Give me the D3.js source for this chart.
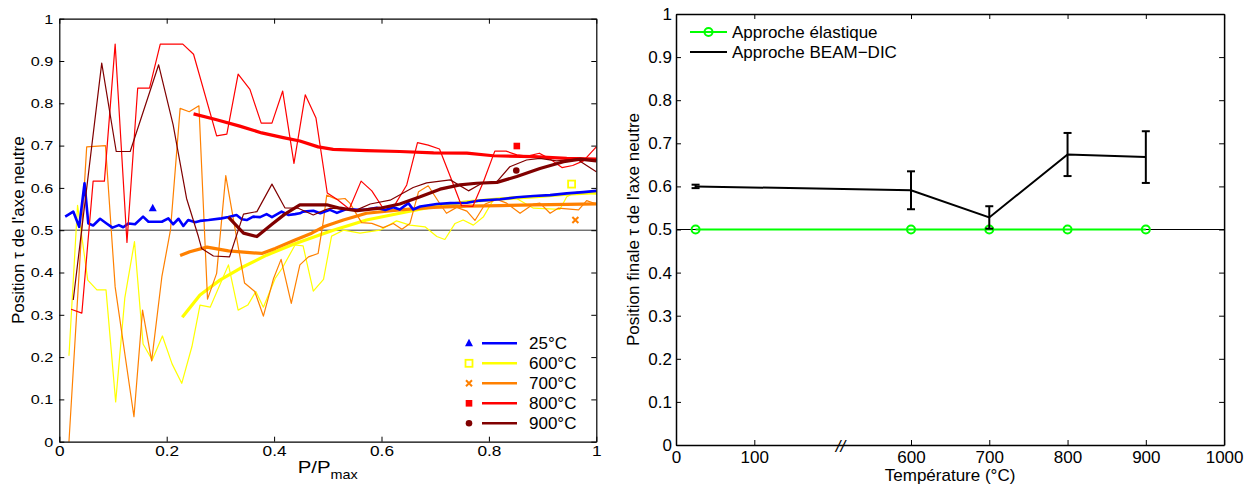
<!DOCTYPE html>
<html><head><meta charset="utf-8">
<script src="https://cdn.jsdelivr.net/npm/d3@7"></script>
<style>
body{margin:0;background:#fff}
svg{display:block}
text{font-family:"Liberation Sans",Arial,sans-serif;fill:#000}
</style>
</head><body><svg id="c" width="1251" height="486"></svg>
<script>
// ---------- LEFT PANEL DATA ([P/Pmax, tau]) ----------
const raw25 = [[0.011,0.532],[0.026,0.544],[0.037,0.508],[0.047,0.611],[0.054,0.516],[0.063,0.511],[0.076,0.527],[0.088,0.516],[0.099,0.506],[0.111,0.512],[0.119,0.507],[0.129,0.516],[0.141,0.514],[0.156,0.532],[0.166,0.520],[0.191,0.520],[0.203,0.528],[0.212,0.514],[0.222,0.527],[0.231,0.510],[0.240,0.524],[0.253,0.519],[0.262,0.522],[0.278,0.524],[0.302,0.528],[0.315,0.531],[0.330,0.536],[0.340,0.526],[0.349,0.524],[0.361,0.532],[0.374,0.531],[0.386,0.538],[0.396,0.531],[0.414,0.544],[0.427,0.536],[0.439,0.538],[0.448,0.540],[0.454,0.544],[0.473,0.546],[0.486,0.540],[0.504,0.548],[0.517,0.541],[0.535,0.550],[0.557,0.548],[0.572,0.549],[0.591,0.553],[0.607,0.548],[0.622,0.554],[0.634,0.549],[0.650,0.564],[0.659,0.549],[0.672,0.556],[0.703,0.562],[0.728,0.564],[0.759,0.565],[0.783,0.570],[0.821,0.573],[0.852,0.578],[0.883,0.581],[0.914,0.583],[0.945,0.587],[0.976,0.590],[1.0,0.593]];

const raw600 = [[0.018,0.203],[0.034,0.559],[0.053,0.382],[0.070,0.359],[0.087,0.359],[0.105,0.094],[0.122,0.340],[0.140,0.473],[0.156,0.231],[0.173,0.193],[0.192,0.250],[0.210,0.184],[0.228,0.138],[0.247,0.225],[0.262,0.323],[0.281,0.318],[0.315,0.418],[0.333,0.311],[0.351,0.323],[0.366,0.355],[0.380,0.318],[0.402,0.386],[0.415,0.410],[0.439,0.465],[0.454,0.463],[0.473,0.356],[0.492,0.384],[0.507,0.486],[0.529,0.500],[0.560,0.493],[0.597,0.500],[0.628,0.522],[0.653,0.512],[0.681,0.508],[0.703,0.485],[0.718,0.478],[0.737,0.516],[0.752,0.524],[0.771,0.512],[0.790,0.532],[0.808,0.571],[0.846,0.579],[0.883,0.552],[0.932,0.549],[0.945,0.579],[0.964,0.591],[1.0,0.585]];
const fit600 = [[0.229,0.294],[0.262,0.347],[0.299,0.382],[0.337,0.410],[0.386,0.441],[0.436,0.467],[0.486,0.489],[0.510,0.500],[0.572,0.524],[0.634,0.540],[0.697,0.556],[0.759,0.567],[0.821,0.574],[0.883,0.579],[0.945,0.585],[1.0,0.589]];

const raw700 = [[0.018,0.0],[0.051,0.697],[0.086,0.700],[0.104,0.366],[0.139,0.059],[0.155,0.311],[0.172,0.191],[0.191,0.390],[0.207,0.500],[0.225,0.788],[0.242,0.780],[0.260,0.794],[0.276,0.337],[0.293,0.398],[0.310,0.629],[0.345,0.375],[0.364,0.355],[0.380,0.297],[0.399,0.386],[0.413,0.431],[0.432,0.327],[0.448,0.418],[0.464,0.437],[0.482,0.445],[0.492,0.524],[0.498,0.583],[0.517,0.573],[0.532,0.575],[0.541,0.564],[0.563,0.518],[0.582,0.516],[0.603,0.506],[0.622,0.516],[0.638,0.502],[0.653,0.516],[0.669,0.591],[0.687,0.605],[0.709,0.562],[0.721,0.540],[0.740,0.554],[0.759,0.545],[0.774,0.523],[0.793,0.562],[0.815,0.573],[0.833,0.564],[0.858,0.540],[0.883,0.562],[0.895,0.564],[0.914,0.540],[0.929,0.552],[0.967,0.548],[0.982,0.570],[1.0,0.562]];
const fit700 = [[0.225,0.440],[0.243,0.449],[0.275,0.460],[0.315,0.451],[0.377,0.445],[0.402,0.457],[0.439,0.477],[0.470,0.493],[0.492,0.508],[0.529,0.524],[0.572,0.540],[0.634,0.548],[0.697,0.554],[0.759,0.557],[0.821,0.558],[0.883,0.560],[0.945,0.561],[1.0,0.562]];

const raw800 = [[0.022,0.313],[0.042,0.304],[0.063,0.616],[0.084,0.616],[0.104,0.940],[0.126,0.471],[0.146,0.836],[0.168,0.836],[0.188,0.940],[0.230,0.940],[0.250,0.916],[0.293,0.723],[0.312,0.727],[0.333,0.869],[0.355,0.833],[0.376,0.753],[0.396,0.753],[0.416,0.829],[0.437,0.658],[0.458,0.820],[0.478,0.765],[0.499,0.588],[0.517,0.573],[0.540,0.550],[0.562,0.616],[0.582,0.593],[0.603,0.552],[0.624,0.558],[0.647,0.607],[0.667,0.707],[0.687,0.701],[0.708,0.692],[0.729,0.624],[0.749,0.558],[0.770,0.556],[0.790,0.615],[0.811,0.687],[0.832,0.687],[0.852,0.678],[0.872,0.675],[0.894,0.682],[0.914,0.668],[0.936,0.648],[0.956,0.653],[0.976,0.664],[1.0,0.697]];
const fit800 = [[0.250,0.775],[0.293,0.761],[0.336,0.746],[0.377,0.730],[0.417,0.719],[0.448,0.711],[0.482,0.697],[0.510,0.691],[0.572,0.688],[0.634,0.686],[0.697,0.683],[0.759,0.682],[0.808,0.676],[0.883,0.674],[0.945,0.670],[1.0,0.668]];

const raw900 = [[0.026,0.335],[0.079,0.895],[0.106,0.686],[0.132,0.686],[0.185,0.891],[0.212,0.749],[0.237,0.575],[0.259,0.485],[0.265,0.457],[0.287,0.439],[0.317,0.437],[0.343,0.538],[0.368,0.544],[0.396,0.609],[0.420,0.553],[0.445,0.552],[0.473,0.536],[0.495,0.548],[0.504,0.552],[0.554,0.548],[0.579,0.562],[0.616,0.571],[0.659,0.601],[0.684,0.612],[0.728,0.619],[0.762,0.593],[0.787,0.611],[0.815,0.615],[0.839,0.650],[0.870,0.666],[0.895,0.670],[0.926,0.664],[0.964,0.668],[1.0,0.638]];
const fit900 = [[0.315,0.531],[0.343,0.493],[0.368,0.485],[0.396,0.514],[0.420,0.538],[0.448,0.560],[0.498,0.560],[0.523,0.552],[0.554,0.546],[0.597,0.552],[0.634,0.562],[0.672,0.579],[0.709,0.597],[0.746,0.607],[0.777,0.611],[0.815,0.613],[0.852,0.627],[0.895,0.646],[0.939,0.662],[0.970,0.668],[1.0,0.664]];

// single markers (one per temperature)
const markerPts = [[0.174,0.552],[0.954,0.609],[0.961,0.524],[0.852,0.699],[0.851,0.641]];
const legendLabels = ["25°C","600°C","700°C","800°C","900°C"];
const seriesColors = ["#0000ff","#ffff00","#ff8000","#ff0000","#800000"];
const markerKinds = ["triangle","squareOpen","cross","squareFill","circle"];

const xTicksL = [0,0.2,0.4,0.6,0.8,1];
const yTicks = [0,0.1,0.2,0.3,0.4,0.5,0.6,0.7,0.8,0.9,1];

// ---------- RIGHT PANEL DATA ----------
const temps = [25,600,700,800,900];
const elastic = [0.5,0.5,0.5,0.5,0.5];
const beamDic = [0.600,0.591,0.528,0.674,0.668];
const beamErr = [0.004,0.044,0.026,0.050,0.060];
const xTicksR = [0,100,600,700,800,900,1000];

const svg = d3.select("#c");
const fmt = d => (d===0||d===1) ? String(d) : d.toFixed(1);

function stretch(sel, sx, dx){
  sel.attr("transform", `scale(${sx},1)`);
  if (dx!==undefined) sel.attr("x", dx/sx);
}

// =============== LEFT PANEL ===============
const xL = d3.scaleLinear().domain([0,1]).range([59.3,596.3]);
const yL = d3.scaleLinear().domain([0,1]).range([441.7,18.7]);
const gL = svg.append("g");

gL.append("line").attr("x1",xL(0)).attr("x2",xL(1)).attr("y1",yL(0.5)).attr("y2",yL(0.5))
  .attr("stroke","#333").attr("stroke-width",1);

const lineL = d3.line().x(d=>xL(d[0])).y(d=>yL(d[1]));
const drawOrder = [
  [raw600, 1, 1.2],[fit600, 1, 3.2],
  [raw700, 2, 1.2],[fit700, 2, 3.2],
  [raw25, 0, 2.6],
  [raw800, 3, 1.2],[fit800, 3, 3.2],
  [raw900, 4, 1.2],[fit900, 4, 3.2]
];
drawOrder.forEach(([data, ci, w])=>{
  gL.append("path").datum(data).attr("d",lineL).attr("fill","none")
    .attr("stroke",seriesColors[ci]).attr("stroke-width",w).attr("stroke-linejoin","round");
});

function drawMarker(g, kind, cx, cy, color){
  if(kind==="triangle"){
    g.append("path").attr("d",`M${cx},${cy-4.5}L${cx+4},${cy+3}L${cx-4},${cy+3}Z`).attr("fill",color);
  } else if(kind==="squareOpen"){
    g.append("rect").attr("x",cx-3.5).attr("y",cy-3.5).attr("width",7).attr("height",7)
      .attr("fill","none").attr("stroke",color).attr("stroke-width",1.8);
  } else if(kind==="cross"){
    g.append("path").attr("d",`M${cx-3},${cy-3}L${cx+3},${cy+3}M${cx-3},${cy+3}L${cx+3},${cy-3}`)
      .attr("stroke",color).attr("stroke-width",2);
  } else if(kind==="squareFill"){
    g.append("rect").attr("x",cx-3.3).attr("y",cy-3.3).attr("width",6.6).attr("height",6.6).attr("fill",color);
  } else {
    g.append("circle").attr("cx",cx).attr("cy",cy).attr("r",3.3).attr("fill",color);
  }
}
markerPts.forEach((p,i)=>drawMarker(gL, markerKinds[i], xL(p[0]), yL(p[1]), seriesColors[i]));

// axes (box with inward ticks)
const axB = gL.append("g").attr("transform",`translate(0,${yL(0)})`)
  .call(d3.axisBottom(xL).tickValues(xTicksL).tickFormat(fmt).tickSizeInner(-5).tickSizeOuter(0).tickPadding(4));
const axT = gL.append("g").attr("transform",`translate(0,${yL(1)})`)
  .call(d3.axisTop(xL).tickValues(xTicksL).tickFormat("").tickSizeInner(-5).tickSizeOuter(0));
const axLft = gL.append("g").attr("transform",`translate(${xL(0)},0)`)
  .call(d3.axisLeft(yL).tickValues(yTicks).tickFormat(fmt).tickSizeInner(-5).tickSizeOuter(0).tickPadding(6));
const axR = gL.append("g").attr("transform",`translate(${xL(1)},0)`)
  .call(d3.axisRight(yL).tickValues(yTicks).tickFormat("").tickSizeInner(-5).tickSizeOuter(0));
[axB,axT,axLft,axR].forEach(a=>{a.select(".domain").attr("stroke","#000").attr("stroke-width",1.2);a.selectAll(".tick line").attr("stroke","#000");});
axB.selectAll("text").style("font-size","15px").attr("font-family",null);
stretch(axB.selectAll("text"),1.15);
axLft.selectAll("text").style("font-size","13.5px").attr("font-family",null);
stretch(axLft.selectAll("text"),1.2,-6);

// axis titles
const xt = gL.append("text").attr("text-anchor","middle").style("font-size","17px")
  .attr("transform",`translate(${(xL(0)+xL(1))/2},473) scale(1.2,1)`);
xt.append("tspan").text("P/P");
xt.append("tspan").attr("dy",6).style("font-size","12px").text("max");
gL.append("text").attr("text-anchor","middle").style("font-size","17px")
  .attr("transform",`translate(24,${yL(0.5)}) rotate(-90)`)
  .text("Position τ de l'axe neutre");

// legend
const legL = gL.append("g");
legendLabels.forEach((lab,i)=>{
  const cy = 343.3 + i*20;
  drawMarker(legL, markerKinds[i], 469, cy, seriesColors[i]);
  legL.append("line").attr("x1",482).attr("x2",517).attr("y1",cy).attr("y2",cy)
    .attr("stroke",seriesColors[i]).attr("stroke-width",2.5);
  legL.append("text").attr("x",529).attr("y",cy).attr("dy","0.36em").style("font-size","17px").text(lab);
});

// =============== RIGHT PANEL ===============
const xR = d3.scaleLinear().domain([0,100,600,1000]).range([676,754.3,911,1224.1]);
const yR = d3.scaleLinear().domain([0,1]).range([445,14]);
const gR = svg.append("g");

gR.append("line").attr("x1",xR(0)).attr("x2",xR(1000)).attr("y1",yR(0.5)).attr("y2",yR(0.5))
  .attr("stroke","#000").attr("stroke-width",1);

const ptsR = temps.map((t,i)=>({t, e:elastic[i], b:beamDic[i], err:beamErr[i]}));
const lineE = d3.line().x(d=>xR(d.t)).y(d=>yR(d.e));
const lineB = d3.line().x(d=>xR(d.t)).y(d=>yR(d.b));

gR.append("path").datum(ptsR).attr("d",lineE).attr("fill","none").attr("stroke","#00ff00").attr("stroke-width",2.2);
gR.selectAll("circle.el").data(ptsR).join("circle").attr("class","el")
  .attr("cx",d=>xR(d.t)).attr("cy",d=>yR(d.e)).attr("r",4)
  .attr("fill","none").attr("stroke","#00ff00").attr("stroke-width",2);

gR.append("path").datum(ptsR).attr("d",lineB).attr("fill","none").attr("stroke","#000").attr("stroke-width",2);
const eb = gR.selectAll("g.eb").data(ptsR).join("g").attr("class","eb");
eb.append("line").attr("x1",d=>xR(d.t)).attr("x2",d=>xR(d.t))
  .attr("y1",d=>yR(d.b-d.err)).attr("y2",d=>yR(d.b+d.err)).attr("stroke","#000").attr("stroke-width",2);
eb.append("line").attr("x1",d=>xR(d.t)-4).attr("x2",d=>xR(d.t)+4)
  .attr("y1",d=>yR(d.b-d.err)).attr("y2",d=>yR(d.b-d.err)).attr("stroke","#000").attr("stroke-width",2);
eb.append("line").attr("x1",d=>xR(d.t)-4).attr("x2",d=>xR(d.t)+4)
  .attr("y1",d=>yR(d.b+d.err)).attr("y2",d=>yR(d.b+d.err)).attr("stroke","#000").attr("stroke-width",2);

const bB = gR.append("g").attr("transform",`translate(0,${yR(0)})`)
  .call(d3.axisBottom(xR).tickValues(xTicksR).tickFormat(d3.format("d")).tickSizeInner(-5).tickSizeOuter(0).tickPadding(6));
const bT = gR.append("g").attr("transform",`translate(0,${yR(1)})`)
  .call(d3.axisTop(xR).tickValues(xTicksR).tickFormat("").tickSizeInner(-5).tickSizeOuter(0));
const bL = gR.append("g").attr("transform",`translate(${xR(0)},0)`)
  .call(d3.axisLeft(yR).tickValues(yTicks).tickFormat(fmt).tickSizeInner(-5).tickSizeOuter(0).tickPadding(4));
const bRt = gR.append("g").attr("transform",`translate(${xR(1000)},0)`)
  .call(d3.axisRight(yR).tickValues(yTicks).tickFormat("").tickSizeInner(-5).tickSizeOuter(0));
[bB,bT,bL,bRt].forEach(a=>{a.select(".domain").attr("stroke","#000").attr("stroke-width",1.5);a.selectAll(".tick line").attr("stroke","#000");});
bB.selectAll("text").style("font-size","17px").attr("font-family",null);
bL.selectAll("text").style("font-size","17px").attr("font-family",null);

// axis break mark
gR.append("text").attr("x",xR(100)+0.55*(xR(600)-xR(100))).attr("y",452)
  .attr("text-anchor","middle").style("font-size","17px").style("font-style","italic").text("//");

gR.append("text").attr("x",(xR(0)+xR(1000))/2).attr("y",481).attr("text-anchor","middle")
  .style("font-size","17px").text("Température (°C)");
gR.append("text").attr("text-anchor","middle").style("font-size","17px")
  .attr("transform",`translate(639,${yR(0.5)}) rotate(-90)`)
  .text("Position finale τ de l'axe neutre");

// legend
const legR = gR.append("g");
legR.append("line").attr("x1",690).attr("x2",727).attr("y1",32).attr("y2",32).attr("stroke","#00ff00").attr("stroke-width",2.2);
legR.append("circle").attr("cx",708.5).attr("cy",32).attr("r",4).attr("fill","none").attr("stroke","#00ff00").attr("stroke-width",2);
legR.append("text").attr("x",732).attr("y",32).attr("dy","0.36em").style("font-size","17px").text("Approche élastique");
legR.append("line").attr("x1",690).attr("x2",727).attr("y1",52).attr("y2",52).attr("stroke","#000").attr("stroke-width",2);
legR.append("text").attr("x",732).attr("y",52).attr("dy","0.36em").style("font-size","17px").text("Approche BEAM\u2212DIC");
</script>
</body></html>
